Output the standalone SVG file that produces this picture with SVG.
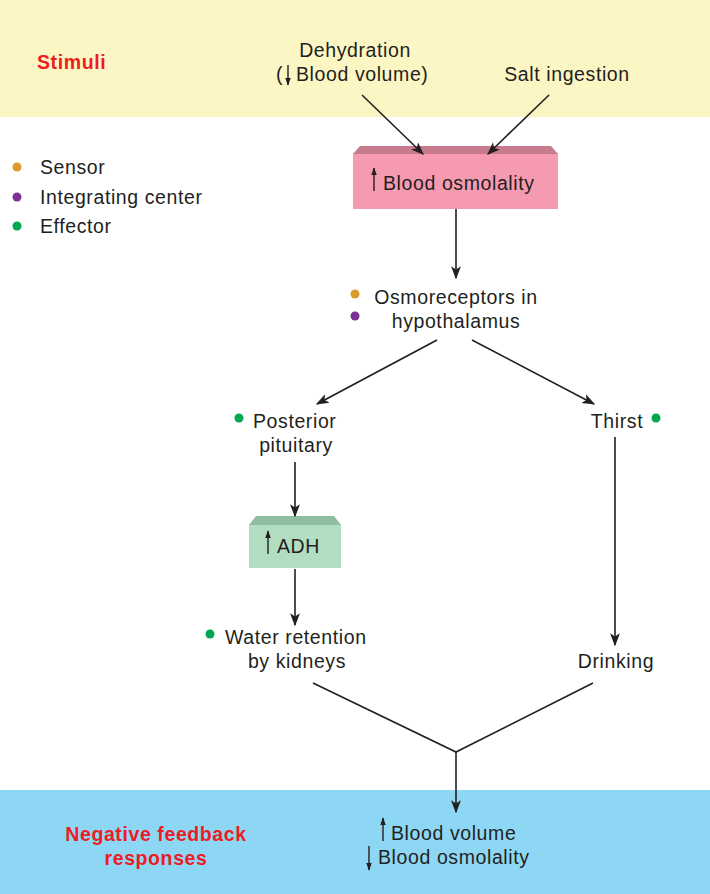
<svg xmlns="http://www.w3.org/2000/svg" width="710" height="894" viewBox="0 0 710 894">
<style>
.t{font-family:"Liberation Sans",Arial,sans-serif;font-size:19.5px;letter-spacing:0.6px;fill:#231f20}
.b{font-family:"Liberation Sans",Arial,sans-serif;font-size:19.5px;font-weight:bold;letter-spacing:0.6px;fill:#ed1c24}
.m{text-anchor:middle}
.ln{stroke:#231f20;stroke-width:1.6;fill:none}
.ar{stroke:#231f20;stroke-width:1.6;fill:none;marker-end:url(#ah)}
.ua{stroke:#231f20;stroke-width:1.4;fill:none;marker-end:url(#sa)}
</style>
<defs>
<marker id="ah" viewBox="0 0 10 10" refX="9" refY="5" markerWidth="13" markerHeight="13" markerUnits="userSpaceOnUse" orient="auto">
<path d="M0,1.2 L10,5 L0,8.8 L2.5,5 Z" fill="#231f20"/>
</marker>
<marker id="sa" viewBox="0 0 10 10" refX="9" refY="5" markerWidth="8" markerHeight="8" markerUnits="userSpaceOnUse" orient="auto">
<path d="M0,1.5 L10,5 L0,8.5 Z" fill="#231f20"/>
</marker>
</defs>
<rect x="0" y="0" width="710" height="117" fill="#fcf6c4"/>
<rect x="0" y="790" width="710" height="104" fill="#8dd7f5"/>
<g id="stimuli-label"><text class="b" x="37" y="69">Stimuli</text></g>
<g id="nfr-label"><text class="b m" x="156" y="841">Negative feedback</text><text class="b m" x="156" y="865">responses</text></g>
<g id="legend">
<circle cx="17" cy="167" r="4.5" fill="#db9a2c"/><text class="t" x="40" y="174">Sensor</text>
<circle cx="17" cy="197" r="4.5" fill="#7b3294"/><text class="t" x="40" y="204">Integrating center</text>
<circle cx="17" cy="226" r="4.5" fill="#00a651"/><text class="t" x="40" y="233">Effector</text>
</g>
<g id="dehydration"><text class="t m" x="355" y="57">Dehydration</text><text class="t" x="276" y="81">(</text><text class="t" x="296" y="81">Blood volume)</text><path class="ua" d="M288,65 L288,85"/></g>
<g id="salt"><text class="t m" x="567" y="81">Salt ingestion</text></g>
<g id="osmolality">
<rect x="353" y="153" width="205" height="56" fill="#f59ab0"/>
<path d="M353,154 L360,146 L551,146 L558,154 Z" fill="#c97b8e"/>
<path class="ua" d="M374,191 L374,168"/>
<text class="t" x="383" y="190">Blood osmolality</text>
</g>
<g id="osmoreceptors">
<circle cx="355" cy="294" r="4.5" fill="#db9a2c"/><circle cx="355" cy="316" r="4.5" fill="#7b3294"/>
<text class="t m" x="456" y="304">Osmoreceptors in</text><text class="t m" x="456" y="328">hypothalamus</text>
</g>
<g id="posterior">
<circle cx="239" cy="418" r="4.5" fill="#00a651"/>
<text class="t" x="253" y="428">Posterior</text><text class="t m" x="296" y="452">pituitary</text>
</g>
<g id="thirst">
<text class="t m" x="617" y="428">Thirst</text><circle cx="656" cy="418" r="4.5" fill="#00a651"/>
</g>
<g id="adh">
<rect x="249" y="524" width="92" height="44" fill="#b3ddc1"/>
<path d="M249,525 L256,516 L334,516 L341,525 Z" fill="#8fbd9f"/>
<path class="ua" d="M268,554 L268,531"/>
<text class="t" x="277" y="553">ADH</text>
</g>
<g id="water">
<circle cx="210" cy="634" r="4.5" fill="#00a651"/>
<text class="t" x="225" y="644">Water retention</text><text class="t m" x="297" y="668">by kidneys</text>
</g>
<g id="drinking"><text class="t m" x="616" y="668">Drinking</text></g>
<g id="responses">
<path class="ua" d="M383,841 L383,818"/>
<text class="t" x="391" y="840">Blood volume</text>
<path class="ua" d="M369,846 L369,870"/>
<text class="t" x="378" y="864">Blood osmolality</text>
</g>
<g id="connectors">
<path class="ar" d="M362,95 L423,154"/>
<path class="ar" d="M549,95 L488,154"/>
<path class="ar" d="M456,209 L456,278"/>
<path class="ar" d="M437,340 L317,404"/>
<path class="ar" d="M472,340 L594,404"/>
<path class="ar" d="M295,462 L295,516"/>
<path class="ar" d="M295,569 L295,625"/>
<path class="ar" d="M615,437 L615,645"/>
<path class="ln" d="M313,683 L456,752 L593,683"/>
<path class="ar" d="M456,752 L456,812"/>
</g>
</svg>
